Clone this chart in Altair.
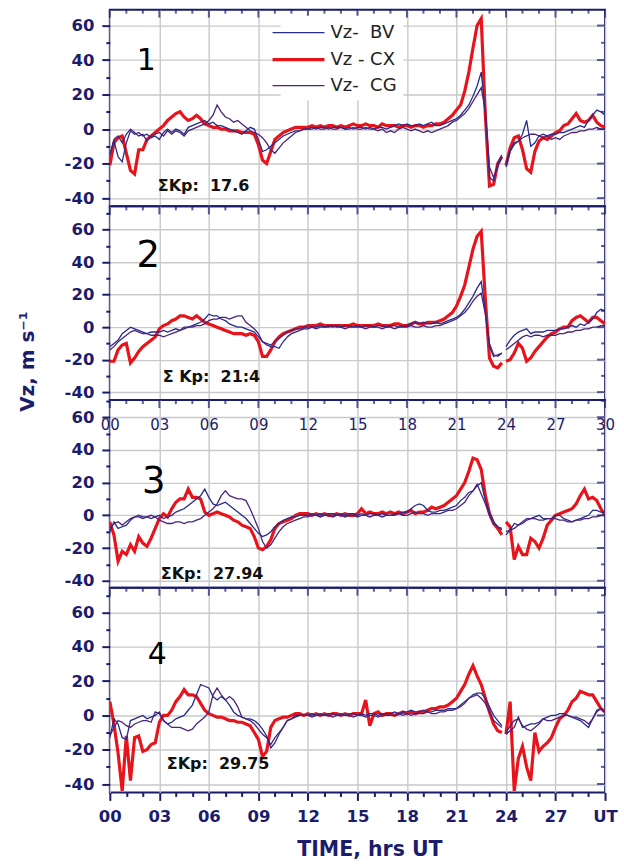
import altair as alt
import pandas as pd

# 15-minute samples from 00 to 30 UT (the day plus six hours of the next)
HOURS = [i / 4 for i in range(121)]

# ---- Panel 1 (sum Kp 17.6) ----
P1_BV = [-15, -7, -16, -19, -8, -1, -3, -2, -4, -3, -5, -4, -6, -2, 0, -2,
         0, -1, -3, 1, 2, 3, 4, 5, 3, 4, 2, 2, 1, 0, -1, -2,
         -3, -1, 1, 0, -6, -13, -12, -10, -8, -6, -4, -3, -2, -1, -1, 0,
         0, 1, 0, 1, 1, 0, 1, 1, 1, 0, 1, 0, 1, 1, 0, 1,
         0, 1, 1, 0, 1, 2, 3, 2, 3, 2, 2, 3, 2, 3, 4, 2,
         2, 3, 4, 5, 6, 8, 11, 14, 19, 25, 33, 10, -28, -30, -20, -15,
         -22, -13, -9, -7, -3, 5, -10, -8, -4, -3, -4, -3, -3, -2, -2, -1,
         0, 1, 2, 1, 5, 8, 11, 10, 8]
P1_CX = [-21, -8, -5, -4, -14, -24, -26, -12, -12, -6, -4, -2, 0, 2, 5, 7,
         9, 10, 7, 5, 6, 8, 6, 3, 2, 1, 1, 0, 0, -1, -1, -1,
         -2, -2, -2, -3, -9, -18, -20, -13, -6, -4, -2, -1, 0, 1, 1, 1,
         1, 2, 1, 2, 1, 2, 2, 1, 2, 1, 2, 3, 2, 2, 3, 2,
         2, 1, 3, 2, 2, 2, 1, 2, 2, 1, 2, 2, 1, 2, 2, 3,
         3, 4, 6, 8, 11, 14, 22, 33, 47, 60, 64, 8, -33, -32, -20, -16,
         -21, -11, -5, -4, -12, -23, -25, -13, -7, -5, -6, -4, -2, -1, 2, 3,
         6, 9, 5, 4, 5, 8, 4, 2, 1]
P1_CG = [-15, -6, -4, -8, -3, 0, -2, -4, -3, -7, -4, -3, -2, -4, -1, -3,
         -1, -2, -4, -1, 0, 1, 2, 3, 5, 8, 14, 10, 7, 6, 4, 5,
         3, 1, -1, -2, -3, -5, -8, -12, -14, -11, -8, -6, -4, -2, -1, 0,
         0, 0, 1, 0, 0, 1, 0, 0, 1, 0, 0, 1, 0, 0, 1, 0,
         0, -1, 0, -2, -1, -2, 0, 1, 0, -1, 0, -1, -2, -1, -2, -1,
         0, 1, 2, 4, 5, 7, 9, 12, 16, 20, 24, 10, -22, -28, -22, -16,
         -20, -12, -8, -7, -5, -4, -3, -3, -4, -5, -4, -6, -5, -6, -4, -3,
         -2, -2, -1, -1, 0, 0, 1, 0, 0]

# ---- Panel 2 (sum Kp 21.4) ----
P2_BV = [-12, -10, -8, -4, -2, 0, -1, -2, -3, -4, -3, -3, -3, -2, -3, -2,
         -1, -2, 0, 0, 1, 2, 3, 5, 8, 7, 7, 5, 4, 2, 1, 0,
         0, -1, -2, -3, -6, -9, -11, -12, -12, -13, -9, -6, -4, -3, -2, -1,
         -1, 0, 0, 1, 0, 1, 0, 1, 0, 1, 1, 0, 1, 0, 1, 1,
         0, 1, 1, 0, 1, 1, 0, 1, 1, 2, 3, 2, 3, 2, 2, 3,
         2, 3, 4, 5, 6, 8, 11, 15, 19, 24, 28, 10, -12, -18, -17, -16,
         -12, -8, -5, -3, -2, -1, -4, -3, -3, -3, -2, -2, -2, -1, -1, 0,
         1, 0, 2, 1, 3, 5, 9, 11, 10]
P2_CX = [-21, -21, -14, -11, -10, -22, -19, -15, -12, -10, -8, -6, -1, 1, 2, 4,
         5, 7, 7, 6, 5, 7, 5, 3, 2, 1, 0, -1, -2, -3, -4, -4,
         -4, -5, -4, -5, -9, -18, -18, -14, -9, -6, -4, -3, -2, -1, 0, 0,
         1, 1, 1, 2, 1, 1, 1, 1, 1, 1, 1, 2, 1, 1, 1, 1,
         1, 2, 1, 1, 1, 2, 2, 1, 1, 2, 3, 2, 2, 3, 3, 3,
         4, 5, 7, 9, 13, 19, 26, 37, 48, 56, 59, 17, -19, -24, -25, -22,
         -21, -20, -16, -10, -13, -21, -19, -15, -12, -9, -6, -4, -3, -1, 0, 0,
         4, 6, 7, 5, 3, 6, 6, 4, 2]
P2_CG = [-14, -12, -9, -7, -5, -3, -2, -3, -4, -4, -5, -5, -5, -6, -5, -4,
         -3, -2, -1, 0, 0, 1, 1, 2, 4, 5, 5, 6, 6, 5, 6, 7,
         7, 3, 1, -1, -4, -9, -10, -11, -9, -7, -5, -3, -2, -1, -1, 0,
         0, 0, -1, 0, 0, 0, 1, 0, 0, -1, 0, 0, 0, 0, -1, 0,
         0, 0, -1, 0, 0, -1, 0, 0, 0, 1, 0, 0, 1, 0, 0, 1,
         1, 2, 3, 4, 5, 7, 9, 12, 16, 19, 21, 8, -10, -17, -18, -16,
         -14, -12, -10, -8, -6, -5, -6, -5, -5, -6, -5, -5, -5, -4, -4, -3,
         -3, -2, -2, -1, -1, 0, 0, 1, 1]

# ---- Panel 3 (sum Kp 27.94) ----
P3_BV = [-10, -4, -8, -7, -6, -3, -1, 0, -1, -1, -2, -1, 0, -2, -1, 0,
         2, 3, 4, 6, 8, 10, 12, 16, 11, 7, 6, 7, 8, 6, 4, 2,
         0, -2, -5, -8, -11, -13, -12, -10, -7, -5, -3, -2, -1, -1, 0, 0,
         0, 1, 0, 1, 0, 1, 1, 0, 1, 0, 1, 1, 0, 1, 0, 1,
         1, 0, 1, 0, 0, 1, 1, 2, 2, 4, 6, 7, 6, 3, 2, 2,
         3, 3, 4, 5, 6, 9, 11, 14, 15, 18, 20, 9, 2, -4, -7, -9,
         -12, -9, -5, -6, -5, -3, -2, -1, 0, -2, -2, -2, 0, 0, -2, -3,
         -4, -3, -2, -1, 0, 3, 3, 2, 2]
P3_CX = [-4, -12, -28, -22, -24, -18, -22, -13, -17, -19, -14, -8, -2, 1, -1, 4,
         8, 10, 10, 16, 11, 11, 10, 2, 0, 1, 2, 1, 0, -1, -3, -4,
         -6, -7, -8, -13, -20, -21, -19, -15, -8, -5, -4, -3, -2, 0, 1, 1,
         1, 0, 1, 0, 1, 0, 0, 1, 0, 1, 0, 0, 1, 4, 1, 2,
         1, 1, 2, 1, 2, 1, 2, 1, 2, 3, 1, 2, 2, 3, 5, 4,
         5, 6, 8, 10, 12, 16, 20, 27, 35, 34, 28, 12, 1, -5, -8, -12,
         -4, -7, -27, -19, -24, -24, -14, -16, -20, -14, -6, -3, 0, 1, 2, 3,
         4, 7, 12, 16, 10, 11, 9, 4, 0]
P3_CG = [-8, -5, -4, -6, -4, -2, -1, -1, -2, -1, 0, -1, -3, -4, -5, -5,
         -4, -4, -5, -4, -4, -3, -2, 0, 2, 4, 7, 12, 15, 12, 11, 10,
         10, 9, 4, -2, -8, -16, -20, -18, -14, -10, -7, -5, -4, -3, -2, -1,
         -1, 0, 0, -1, 0, 0, -1, 0, 0, -1, 0, 0, -1, 0, 0, -1,
         0, 0, -1, 0, 0, 0, 1, 0, 0, 1, 2, 1, 1, 0, 1, 1,
         1, 2, 3, 3, 4, 6, 8, 12, 15, 19, 13, 7, 0, -5, -7, -8,
         -10, -9, -8, -6, -4, -2, -2, -2, -3, -3, -2, -2, -2, -3, -3, -4,
         -4, -3, -3, -2, -2, -1, -1, 0, 0]

# ---- Panel 4 (sum Kp 29.75) ----
P4_BV = [-13, -2, -5, -13, -14, -3, -2, -1, 0, -2, -1, 0, 2, -3, -5, -4,
         -2, -1, 0, 3, 6, 12, 18, 17, 16, 11, 9, 11, 9, 6, 2, 0,
         -1, -2, -2, -3, -5, -8, -12, -19, -16, -11, -7, -3, -2, 0, 0, 0,
         0, 1, 0, 1, 0, 1, 1, 0, 1, 0, 1, 1, 0, 1, 0, 1,
         1, 0, 1, 1, 1, 2, 1, 2, 2, 3, 2, 2, 3, 2, 2, 3,
         3, 3, 4, 4, 4, 6, 8, 10, 12, 13, 13, 10, 5, 0, -3, -6,
         -11, -9, -7, -1, -7, -6, -5, -5, -4, -2, -1, 0, 0, 1, 1, 0,
         -1, -2, -3, -5, -7, -2, 3, 4, 2]
P4_CX = [8, -5, -22, -44, -12, -38, -13, -12, -21, -20, -17, -16, -4, 0, 0, 3,
         8, 11, 15, 12, 12, 11, 7, 3, 1, 0, -1, -1, -2, -3, -3, -4,
         -4, -5, -6, -10, -14, -24, -21, -7, -3, -2, -1, -1, 0, 1, 1, 0,
         1, 0, 1, 0, 1, 0, 1, 1, 0, 1, 0, 1, 1, 1, 9, -6,
         1, 2, 0, 1, 1, 0, 1, 2, 1, 2, 1, 2, 2, 3, 4, 4,
         5, 5, 6, 8, 10, 14, 18, 24, 29, 23, 18, 10, 2, -5, -9, -10,
         -11, 8, -44, -25, -18, -30, -38, -10, -21, -18, -16, -13, -7, -2, 0, 3,
         8, 10, 14, 13, 12, 12, 8, 4, 2]
P4_CG = [-12, -7, -3, -4, -6, -7, -5, -4, -3, -3, -4, 2, 1, -3, -5, -7,
         -7, -7, -8, -9, -8, -5, -3, -1, 2, 12, 16, 12, 9, 11, 9, 5,
         -1, -2, -3, -5, -8, -11, -13, -17, -13, -10, -7, -3, -2, -1, 0, 0,
         0, -1, 0, 0, 0, 0, -1, 0, 0, 0, 0, -1, 0, 0, -1, 0,
         0, -1, 0, 0, 0, 0, 1, 0, 1, 0, 1, 1, 1, 2, 1, 1,
         2, 2, 3, 3, 4, 5, 7, 10, 11, 12, 10, 7, 2, -3, -5, -7,
         -10, -6, -3, -2, -6, -8, -9, -7, -5, -2, -3, -3, -2, -1, 0, 0,
         -1, -1, -2, -3, -5, -2, 2, 4, 2]

PANEL_SERIES = [
    (P1_BV, P1_CX, P1_CG),
    (P2_BV, P2_CX, P2_CG),
    (P3_BV, P3_CX, P3_CG),
    (P4_BV, P4_CX, P4_CG),
]
PANEL_TAGS = ["1", "2", "3", "4"]
KP_LABELS = ["\u03a3Kp:\u00a0 17.6", "\u03a3 Kp:\u00a0 21:4",
             "\u03a3Kp:\u00a0 27.94", "\u03a3Kp:\u00a0 29.75"]

STATIONS = ["Vz-\u00a0 BV", "Vz - CX", "Vz-\u00a0 CG"]
STATION_COLORS = ["#262b8e", "#e8141c", "#4b2479"]
STATION_WIDTHS = [1.3, 3.2, 1.3]
DRAW_ORDER = [1, 0, 2]  # thick CX trace underneath the thin ones

# panel geometry
W = 496
HEIGHTS = [197, 194, 188, 205]
DOMAINS = [(-44.8, 69.2), (-44.9, 74.4), (-44.3, 70.5), (-44.9, 74.4)]
TAG_POS = [(36.5, 51), (38.5, 49.5), (44, 82.5), (47.5, 67)]
TAG_SIZE = [30, 37, 37, 30]
KP_POS = [(48, 177), (53, 171), (51, 174), (57, 177)]

NAVY = "#1c1c6c"
FONT = "DejaVu Sans"


def series_frame(series):
    rows = []
    for idx in DRAW_ORDER:
        for t, v in zip(HOURS, series[idx]):
            rows.append({"t": t, "v": v, "station": STATIONS[idx],
                         "seg": 0 if t < 24 else 1})
    return pd.DataFrame(rows)


X_MAJOR = [h for h in range(31) if h % 3 == 0]
X_MINOR = [h for h in range(31) if h % 3]
Y_EXPR20 = "datum.value % 20 === 0"
X_EXPR3 = "datum.value % 3 === 0"


def panel(k):
    lo, hi = DOMAINS[k]
    h = HEIGHTS[k]
    xs = alt.Scale(domain=[0, 30], nice=False, zero=False)
    ys = alt.Scale(domain=[lo, hi], nice=False, zero=False)
    yvals = [v for v in range(-40, 71, 10) if lo <= v <= hi]
    y_major = [v for v in yvals if v % 20 == 0]
    y_minor = [v for v in yvals if v % 20]

    y_kw = dict(
        values=yvals,
        labelExpr=f"{Y_EXPR20} ? '' + datum.value : ''",
        tickSize={"condition": {"test": Y_EXPR20, "value": 8}, "value": 4},
        gridOpacity={"condition": {"test": Y_EXPR20, "value": 1}, "value": 0},
        labelPadding=8,
        title=None,
    )
    if k == 1:
        y_kw.update(title="Vz, m s\u207b\u00b9", titleX=-82, titleY=155,
                    titleAngle=270, titleAlign="center",
                    titleBaseline="middle", titleFontSize=20)
    y_axis = alt.Axis(**y_kw)

    if k == 3:
        x_axis = alt.Axis(
            values=list(range(31)),
            labelExpr=(f"{X_EXPR3} ? (datum.value === 30 ? 'UT' : "
                       "(datum.value < 10 ? '0' + datum.value : '' + datum.value)) : ''"),
            tickSize={"condition": {"test": X_EXPR3, "value": 8}, "value": 4},
            gridOpacity={"condition": {"test": X_EXPR3, "value": 1}, "value": 0},
            labelPadding=8,
            title="TIME, hrs UT", titleX=260, titleY=57, titleAlign="center",
            titleBaseline="middle", titleFontSize=20.5,
        )
    elif k == 2:
        x_axis = alt.Axis(
            orient="top", values=X_MAJOR, ticks=False, title=None,
            labelExpr="datum.value < 10 ? '0' + datum.value : '' + datum.value",
            labelPadding=-24, labelBaseline="middle",
            labelFontWeight="normal", labelFontSize=15,
            minExtent=0, maxExtent=0,
        )
    else:
        x_axis = alt.Axis(values=X_MAJOR, labels=False, ticks=False, title=None,
                          minExtent=0, maxExtent=0)

    if k == 0:
        legend = alt.Legend(
            orient="none", legendX=171, legendY=6, title=None,
            symbolType="M-2.6,0H2.6", symbolSize=400,
            labelFont=FONT, labelFontSize=18, labelColor="#222222",
            labelOffset=20, rowPadding=6, fillColor="white", padding=6,
        )
    else:
        legend = None

    x_enc = alt.X("t:Q", scale=xs, axis=x_axis)
    y_enc = alt.Y("v:Q", scale=ys, axis=y_axis)

    lines = alt.Chart(series_frame(PANEL_SERIES[k])).mark_line(clip=True).encode(
        x=x_enc,
        y=y_enc,
        color=alt.Color("station:N", legend=legend,
                        scale=alt.Scale(domain=STATIONS, range=STATION_COLORS)),
        strokeWidth=alt.StrokeWidth("station:N", legend=legend,
                                    scale=alt.Scale(type="ordinal", domain=STATIONS,
                                                    range=STATION_WIDTHS)),
        detail="seg:N",
    )

    # inward ticks along the top edge and the right edge
    def top_ticks(hours, size):
        return alt.Chart(pd.DataFrame({"t": hours})).mark_tick(
            orient="vertical", size=size, thickness=2, color=NAVY
        ).encode(x=x_enc, y=alt.value(size / 2))

    def right_ticks(vals, size):
        return alt.Chart(pd.DataFrame({"v": vals})).mark_tick(
            orient="horizontal", size=size, thickness=2, color=NAVY
        ).encode(y=y_enc, x=alt.value(W - size / 2))

    tag = alt.Chart(pd.DataFrame({"label": [PANEL_TAGS[k]]})).mark_text(
        font=FONT, fontSize=TAG_SIZE[k], color="black", align="center", baseline="middle"
    ).encode(text="label:N", x=alt.value(TAG_POS[k][0]), y=alt.value(TAG_POS[k][1]))

    kp = alt.Chart(pd.DataFrame({"label": [KP_LABELS[k]]})).mark_text(
        font=FONT, fontSize=16, fontWeight="bold", color="#111111",
        align="left", baseline="middle"
    ).encode(text="label:N", x=alt.value(KP_POS[k][0]), y=alt.value(KP_POS[k][1]))

    return alt.layer(
        lines,
        top_ticks(X_MAJOR, 8), top_ticks(X_MINOR, 4),
        right_ticks(y_major, 8), right_ticks(y_minor, 4),
        tag, kp,
    ).properties(width=W, height=h)


# panels stacked edge to edge: only the plot areas count for the layout
chart = alt.vconcat(*[panel(k) for k in range(4)], spacing=0, bounds="flush").resolve_scale(
    color="independent", strokeWidth="independent"
).properties(
    padding={"left": 17, "top": 8, "right": 5, "bottom": 0},
    background="white",
).configure_view(
    stroke=NAVY, strokeWidth=2
).configure_axis(
    labelFont=FONT, labelFontWeight="bold", labelFontSize=16.5, labelColor=NAVY,
    tickColor=NAVY, tickWidth=2, domain=False,
    gridColor="#c9c9c9", gridWidth=1.4,
    labelFlush=False, labelOverlap=False,
    titleFont=FONT, titleFontWeight="bold", titleColor=NAVY,
)

chart.save("out.html", embed_options={"renderer": "svg", "actions": False})
